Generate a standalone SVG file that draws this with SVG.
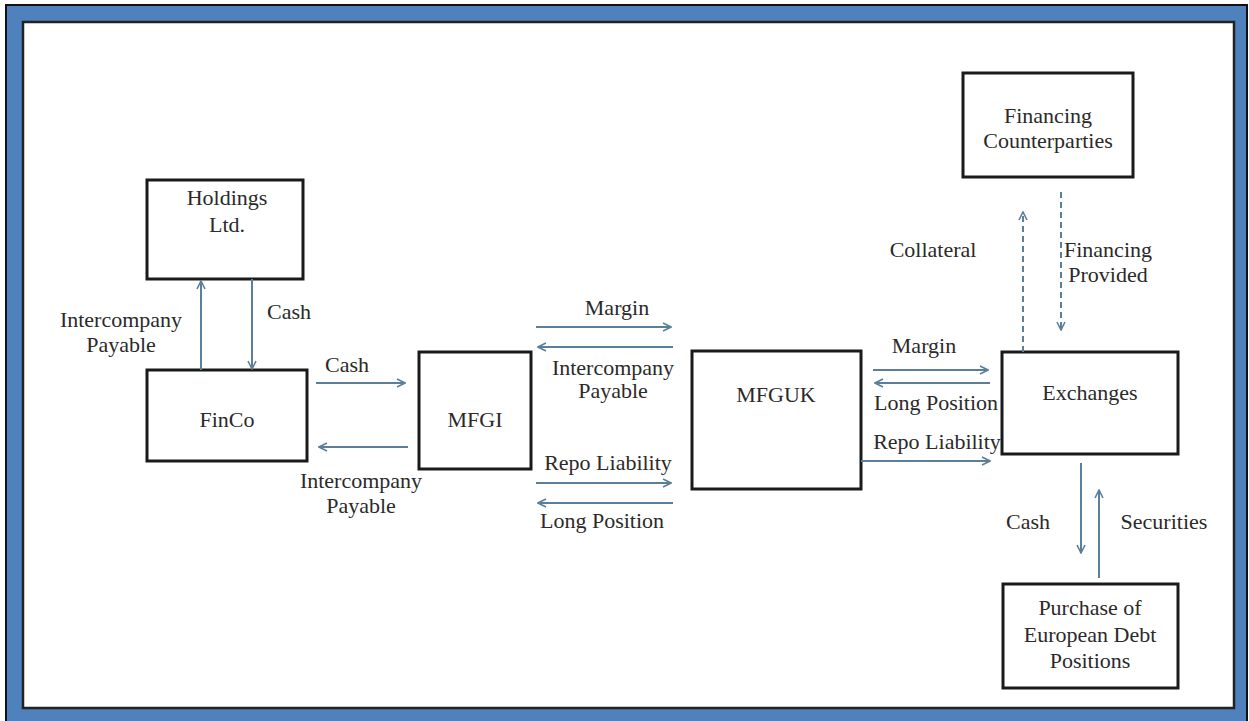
<svg xmlns="http://www.w3.org/2000/svg" width="1249" height="721" viewBox="0 0 1249 721">
<style>
.box{fill:#fff;stroke:#1a1a1a;stroke-width:3}
.t{font-size:22px;fill:#2a2a2a;text-anchor:middle}
.c{stroke:#5b7f99;stroke-width:2;fill:none;marker-end:url(#ah)}
.d{stroke-dasharray:6,4}
</style>
<defs>
<marker id="ah" viewBox="0 0 10 10" refX="9" refY="5" markerWidth="10" markerHeight="10" markerUnits="userSpaceOnUse" orient="auto">
<path d="M1,1 L9,5 L1,9" fill="none" stroke="#5b7f99" stroke-width="1.6"/>
</marker>
</defs>
<rect x="0" y="0" width="1249" height="721" fill="#fff"/>
<rect x="6" y="5" width="1241" height="718" fill="#4f81bd" stroke="#111" stroke-width="2"/>
<rect x="23" y="22" width="1211" height="686" fill="#fff" stroke="#222" stroke-width="2.5"/>

<g font-family="Liberation Serif, DejaVu Serif, serif">
<g id="holdings"><rect class="box" x="147" y="180" width="156" height="99"/><text class="t" x="227" y="205">Holdings</text><text class="t" x="227" y="232">Ltd.</text></g>
<g id="finco"><rect class="box" x="147" y="370" width="160" height="91"/><text class="t" x="227" y="427">FinCo</text></g>
<g id="mfgi"><rect class="box" x="419" y="352" width="112" height="117"/><text class="t" x="475" y="427">MFGI</text></g>
<g id="mfguk"><rect class="box" x="692" y="351" width="169" height="138"/><text class="t" x="776" y="402">MFGUK</text></g>
<g id="exchanges"><rect class="box" x="1002" y="352" width="176" height="102"/><text class="t" x="1090" y="400">Exchanges</text></g>
<g id="fincp"><rect class="box" x="963" y="73" width="170" height="104"/><text class="t" x="1048" y="123">Financing</text><text class="t" x="1048" y="148">Counterparties</text></g>
<g id="purchase"><rect class="box" x="1003" y="584" width="175" height="104"/><text class="t" x="1090" y="615">Purchase of</text><text class="t" x="1090" y="642">European Debt</text><text class="t" x="1090" y="668">Positions</text></g>
</g>

<g id="connectors">
<line class="c" x1="201" y1="370" x2="201" y2="281"/>
<line class="c" x1="252" y1="279" x2="252" y2="369"/>
<line class="c" x1="316" y1="383" x2="405" y2="383"/>
<line class="c" x1="408" y1="447" x2="319" y2="447"/>
<line class="c" x1="536" y1="327" x2="671" y2="327"/>
<line class="c" x1="673" y1="347" x2="538" y2="347"/>
<line class="c" x1="536" y1="483" x2="671" y2="483"/>
<line class="c" x1="673" y1="503" x2="538" y2="503"/>
<line class="c" x1="873" y1="370" x2="988" y2="370"/>
<line class="c" x1="990" y1="383" x2="875" y2="383"/>
<line class="c" x1="861" y1="461" x2="990" y2="461"/>
<line class="c d" x1="1023" y1="352" x2="1023" y2="212"/>
<line class="c d" x1="1061" y1="192" x2="1061" y2="330"/>
<line class="c" x1="1081" y1="463" x2="1081" y2="553"/>
<line class="c" x1="1099" y1="578" x2="1099" y2="490"/>
</g>

<g id="labels" font-family="Liberation Serif, DejaVu Serif, serif">
<text class="t" x="121" y="327">Intercompany</text><text class="t" x="121" y="352">Payable</text>
<text class="t" x="289" y="319">Cash</text>
<text class="t" x="347" y="372">Cash</text>
<text class="t" x="361" y="488">Intercompany</text><text class="t" x="361" y="513">Payable</text>
<text class="t" x="617" y="315">Margin</text>
<text class="t" x="613" y="375">Intercompany</text><text class="t" x="613" y="398">Payable</text>
<text class="t" x="608" y="470">Repo Liability</text>
<text class="t" x="602" y="528">Long Position</text>
<text class="t" x="924" y="353">Margin</text>
<text class="t" x="936" y="410">Long Position</text>
<text class="t" x="937" y="449">Repo Liability</text>
<text class="t" x="933" y="257">Collateral</text>
<text class="t" x="1108" y="257">Financing</text><text class="t" x="1108" y="282">Provided</text>
<text class="t" x="1028" y="529">Cash</text>
<text class="t" x="1164" y="529">Securities</text>
</g>
</svg>
